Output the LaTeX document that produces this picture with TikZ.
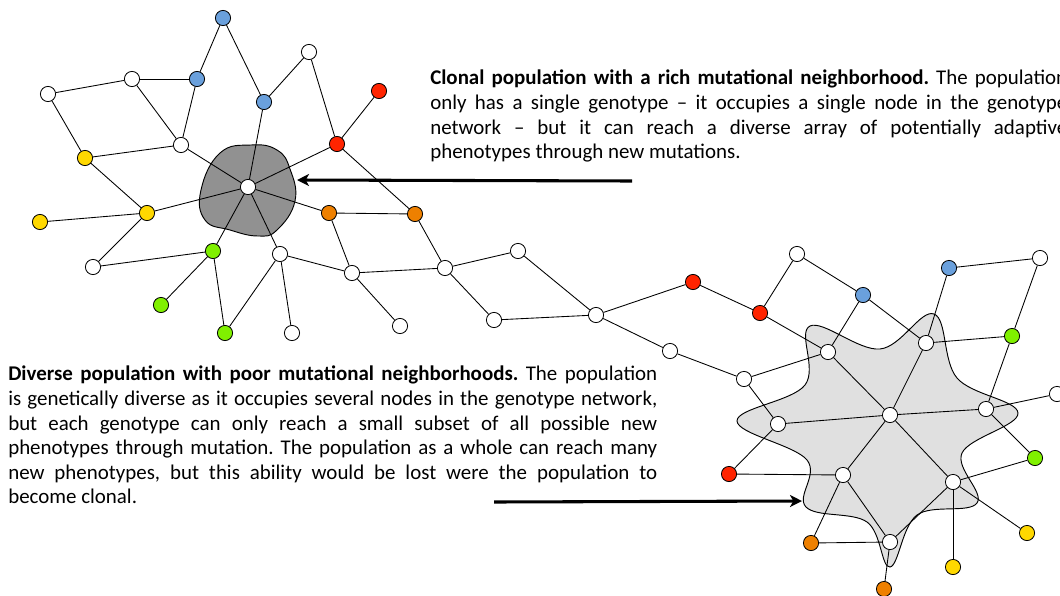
\documentclass[tikz,border=0pt]{standalone}
\usepackage{fontspec}
\setmainfont{Carlito}
\usetikzlibrary{arrows.meta}
\definecolor{nblue}{RGB}{106,160,220}
\definecolor{nred}{RGB}{255,36,0}
\definecolor{nyellow}{RGB}{255,216,0}
\definecolor{norange}{RGB}{238,128,0}
\definecolor{ngreen}{RGB}{128,240,0}
\definecolor{blobgray}{RGB}{145,145,145}
\definecolor{stargray}{RGB}{224,224,224}
\frenchspacing
\begin{document}
\begin{tikzpicture}[x=0.75pt,y=-0.75pt,
  gn/.style={circle,draw=black,line width=0.6pt,minimum size=11.4pt,inner sep=0pt,fill=white},
  bl/.style={gn,fill=nblue},
  rd/.style={gn,fill=nred},
  ye/.style={gn,fill=nyellow},
  og/.style={gn,fill=norange},
  gr/.style={gn,fill=ngreen},
  edge/.style={draw=black,line width=0.65pt},
  bigarrow/.style={draw=black,line width=2.3pt,-{Stealth[length=9pt,width=9pt,inset=2.5pt]}},
  txt/.style={inner sep=0pt,align=left,font=\fontsize{15.7pt}{18.45pt}\selectfont}
]
\clip (0,0) rectangle (1060,596);
\fill[white] (0,0) rectangle (1060,596);

% blobs
\draw[fill=blobgray,line width=0.7pt] plot[smooth cycle,tension=0.75] coordinates {
  (251,145) (277,150) (290,169) (295,201) (277,230) (258,236) (230,230) (205,220) (201,190) (220,153)};
\draw[fill=stargray,line width=0.7pt] plot[smooth cycle,tension=0.62] coordinates {
  (934,314) (880,349) (810,326) (805,385) (737,421) (807,460) (806,507) (867,522)
  (890,567) (917,515) (977,503) (962,453) (1018,413) (957,378)};

% nodes (left cluster)
\node[bl] (b1) at (223,18) {};
\node[gn] (w1) at (309,52) {};
\node[gn] (w2) at (132,79) {};
\node[bl] (b2) at (197,79) {};
\node[gn] (w3) at (48,94) {};
\node[rd] (r1) at (379,91) {};
\node[bl] (b3) at (264,102) {};
\node[gn] (w4) at (181,145) {};
\node[rd] (r2) at (337,144) {};
\node[ye] (y1) at (85,158) {};
\node[gn] (C) at (248,187) {};
\node[ye] (y2) at (147,213) {};
\node[og] (o1) at (329,213) {};
\node[og] (o2) at (415,214) {};
\node[ye] (y3) at (40,222) {};
\node[gr] (g1) at (213,251) {};
\node[gn] (w5) at (280,254) {};
\node[gn] (w6) at (93,267) {};
\node[gn] (w7) at (352,273) {};
\node[gr] (g2) at (161,305) {};
\node[gn] (w8) at (400,326) {};
\node[gr] (g3) at (225,333) {};
\node[gn] (w9) at (292,333) {};
% middle
\node[gn] (w10) at (445,268) {};
\node[gn] (w11) at (518,251) {};
\node[gn] (w12) at (494,320) {};
\node[gn] (w13) at (596,315) {};
\node[rd] (r3) at (693,282) {};
\node[rd] (r4) at (760,313) {};
\node[gn] (w14) at (670,351) {};
% right
\node[gn] (w15) at (797,254) {};
\node[bl] (b4) at (949,268) {};
\node[gn] (w16) at (1040,258) {};
\node[bl] (b5) at (863,295) {};
\node[gr] (g4) at (1012,336) {};
\node[gn] (w17) at (926,343) {};
\node[gn] (w18) at (828,352) {};
\node[gn] (w19) at (744,379) {};
\node[gn] (w20) at (1057,394) {};
\node[gn] (w21) at (986,409) {};
\node[gn] (wc) at (890,415) {};
\node[gn] (w22) at (778,424) {};
\node[gr] (g5) at (1035,458) {};
\node[rd] (r5) at (729,474) {};
\node[gn] (w23) at (843,475) {};
\node[gn] (w24) at (953,482) {};
\node[ye] (y4) at (1027,533) {};
\node[og] (o3) at (811,543) {};
\node[gn] (w25) at (890,542) {};
\node[ye] (y5) at (953,567) {};
\node[og] (o4) at (884,589) {};

% edges
\foreach \a/\b in {b1/b2,b1/b3,w2/b2,w2/w3,w2/w4,b2/w4,w3/y1,b3/w1,w1/r2,b3/C,r1/r2,r2/C,r2/o2,
  w4/y1,w4/C,y1/y2,y2/C,y2/y3,y2/w6,C/o1,C/g1,C/w5,o1/o2,o1/w7,o2/w10,g1/g2,g1/g3,g1/w6,
  w5/w9,w5/g3,w5/w7,w7/w10,w7/w8,w10/w11,w10/w12,w11/w13,w12/w13,w13/r3,w13/w14,r3/r4,
  r4/w15,r4/w18,w15/b5,b5/w18,b5/w17,b4/w17,b4/w16,w16/g4,w17/g4,w17/wc,w18/wc,w18/w19,
  w14/w19,w19/w22,g4/w21,w20/w21,wc/w21,wc/w22,wc/w23,wc/w24,w22/r5,w21/g5,r5/w23,w23/o3,
  w23/w25,w24/w25,w24/g5,w24/y4,w24/y5,o3/w25,w25/o4}
  \draw[edge] (\a) -- (\b);

% arrows
\coordinate (a1s) at (632,181);
\coordinate (a1e) at (297,180);
\coordinate (a2s) at (494,502);
\coordinate (a2e) at (802,501);
\draw[bigarrow] (a1s) -- (a1e);
\draw[bigarrow] (a2s) -- (a2e);

% texts
\node[txt,anchor=north west] (t1) at (430,70) {%
\makebox[477.75pt][s]{\textbf{Clonal population with a rich mutational neighborhood.} The population}\\
\makebox[477.75pt][s]{only has a single genotype – it occupies a single node in the genotype}\\
\makebox[477.75pt][s]{network – but it can reach a diverse array of potentially adaptive}\\
phenotypes through new mutations.};

\node[txt,anchor=north west] (t2) at (8,366) {%
\makebox[486.75pt][s]{\textbf{Diverse population with poor mutational neighborhoods.} The population}\\
\makebox[486.75pt][s]{is genetically diverse as it occupies several nodes in the genotype network,}\\
\makebox[486.75pt][s]{but each genotype can only reach a small subset of all possible new}\\
\makebox[486.75pt][s]{phenotypes through mutation. The population as a whole can reach many}\\
\makebox[486.75pt][s]{new phenotypes, but this ability would be lost were the population to}\\
become clonal.};
\end{tikzpicture}
\end{document}
